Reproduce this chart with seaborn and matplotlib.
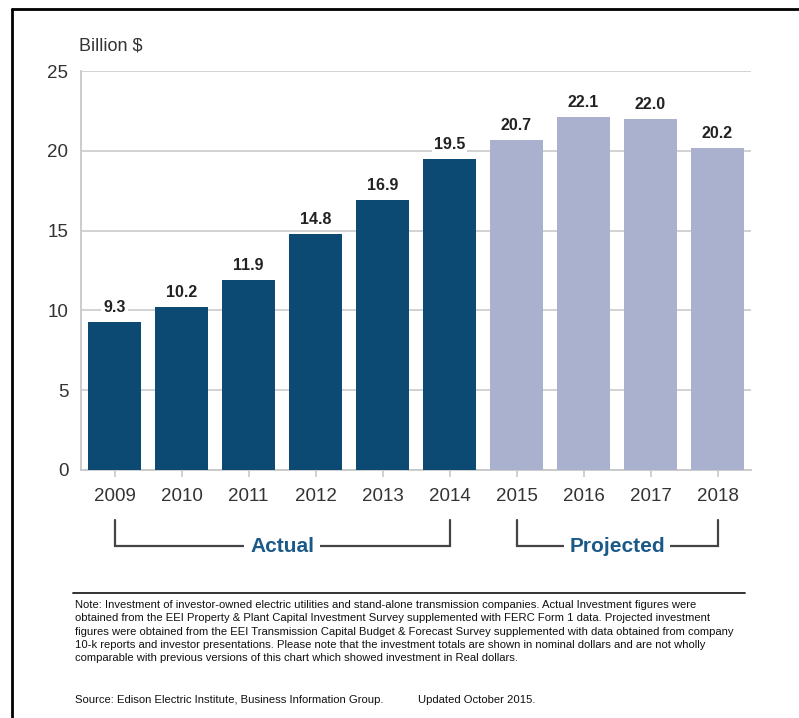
import matplotlib
matplotlib.use("Agg")
import matplotlib.pyplot as plt
import matplotlib.transforms as mtransforms
import seaborn as sns
import pandas as pd

years = ["2009", "2010", "2011", "2012", "2013", "2014", "2015", "2016", "2017", "2018"]
values = [9.3, 10.2, 11.9, 14.8, 16.9, 19.5, 20.7, 22.1, 22.0, 20.2]
phases = ["Actual"] * 6 + ["Projected"] * 4
yticks = [0, 5, 10, 15, 20, 25]
note_lines = [
    "Note: Investment of investor-owned electric utilities and stand-alone transmission companies. Actual Investment figures were",
    "obtained from the EEI Property & Plant Capital Investment Survey supplemented with FERC Form 1 data. Projected investment",
    "figures were obtained from the EEI Transmission Capital Budget & Forecast Survey supplemented with data obtained from company",
    "10-k reports and investor presentations. Please note that the investment totals are shown in nominal dollars and are not wholly",
    "comparable with previous versions of this chart which showed investment in Real dollars.",
]
source_text = "Source: Edison Electric Institute, Business Information Group."
updated_text = "Updated October 2015."

sns.set_theme(style="white")
FAM = ["Liberation Sans", "DejaVu Sans"]
plt.rcParams["font.family"] = FAM

df = pd.DataFrame({"year": years, "value": values, "phase": phases})
palette = {"Actual": "#0D4A73", "Projected": "#A9B1CF"}

W, H = 799, 718
fig = plt.figure(figsize=(W / 100, H / 100), dpi=100)
ax = fig.add_axes([81 / W, 1 - 470 / H, (751 - 81) / W, (470 - 71) / H])

sns.barplot(data=df, x="year", y="value", hue="phase", palette=palette,
            dodge=False, width=0.8, legend=False, ax=ax, zorder=3,
            edgecolor="none", saturation=1)

ax.set_xlim(-0.5, 9.5)
ax.set_ylim(0, 25)
ax.set_yticks(yticks)
ax.yaxis.grid(True, color="#CFCFCF", linewidth=1.3, zorder=0)
ax.set_axisbelow(True)
ax.set_xlabel("")
ax.set_ylabel("")
for s in ["top", "right"]:
    ax.spines[s].set_visible(False)
for s in ["left", "bottom"]:
    ax.spines[s].set_color("#C8C8C8")
    ax.spines[s].set_linewidth(1.3)
ax.tick_params(axis="y", length=0, pad=9, labelsize=13.5, labelcolor="#333333")
ax.tick_params(axis="x", length=5, width=1.2, color="#C8C8C8", pad=8,
               labelsize=13.5, labelcolor="#333333", bottom=True)

for cont in ax.containers:
    ax.bar_label(cont, fmt="%.1f", padding=5, fontsize=11.5, fontweight="bold",
                 color="#222222",
                 bbox=dict(facecolor="white", edgecolor="none", pad=1.5))

fig.text(79 / W, 1 - 46 / H, "Billion $", fontsize=13, color="#333333",
         ha="left", va="center")

# brackets
tr = mtransforms.blended_transform_factory(ax.transData, fig.transFigure)
y_top = 1 - 520 / H
y_bot = 1 - 546 / H
bcol = "#444444"
for (i0, i1, label) in [(0, 5, "Actual"), (6, 9, "Projected")]:
    ax.plot([i0, i0, i1, i1], [y_top, y_bot, y_bot, y_top], transform=tr,
            color=bcol, lw=1.6, clip_on=False, solid_joinstyle="miter")
    ax.text((i0 + i1) / 2, y_bot, label, transform=tr, ha="center",
            va="center", fontsize=15, fontweight="bold", color="#1B5A88",
            bbox=dict(facecolor="white", edgecolor="none", pad=4),
            clip_on=False, zorder=5)

# separator
fig.add_artist(plt.Line2D([73 / W, 745 / W], [1 - 593 / H, 1 - 593 / H],
                          color="#222222", lw=1.3))

# notes
y0 = 605
NFS = 8.1
for k, line in enumerate(note_lines):
    fig.text(75 / W, 1 - (y0 + 13.3 * k) / H, line, fontsize=NFS,
             color="#111111", ha="left", va="center")
fig.text(75 / W, 1 - 700 / H, source_text, fontsize=NFS, color="#111111",
         ha="left", va="center")
fig.text(418 / W, 1 - 700 / H, updated_text, fontsize=NFS, color="#111111",
         ha="left", va="center")

# frame
fig.add_artist(plt.Line2D([11.5 / W, 11.5 / W], [0, 1 - 9 / H], color="black", lw=2))
fig.add_artist(plt.Line2D([11.5 / W, 1], [1 - 9 / H, 1 - 9 / H], color="black", lw=2))

fig.savefig("out.png", dpi=100)
